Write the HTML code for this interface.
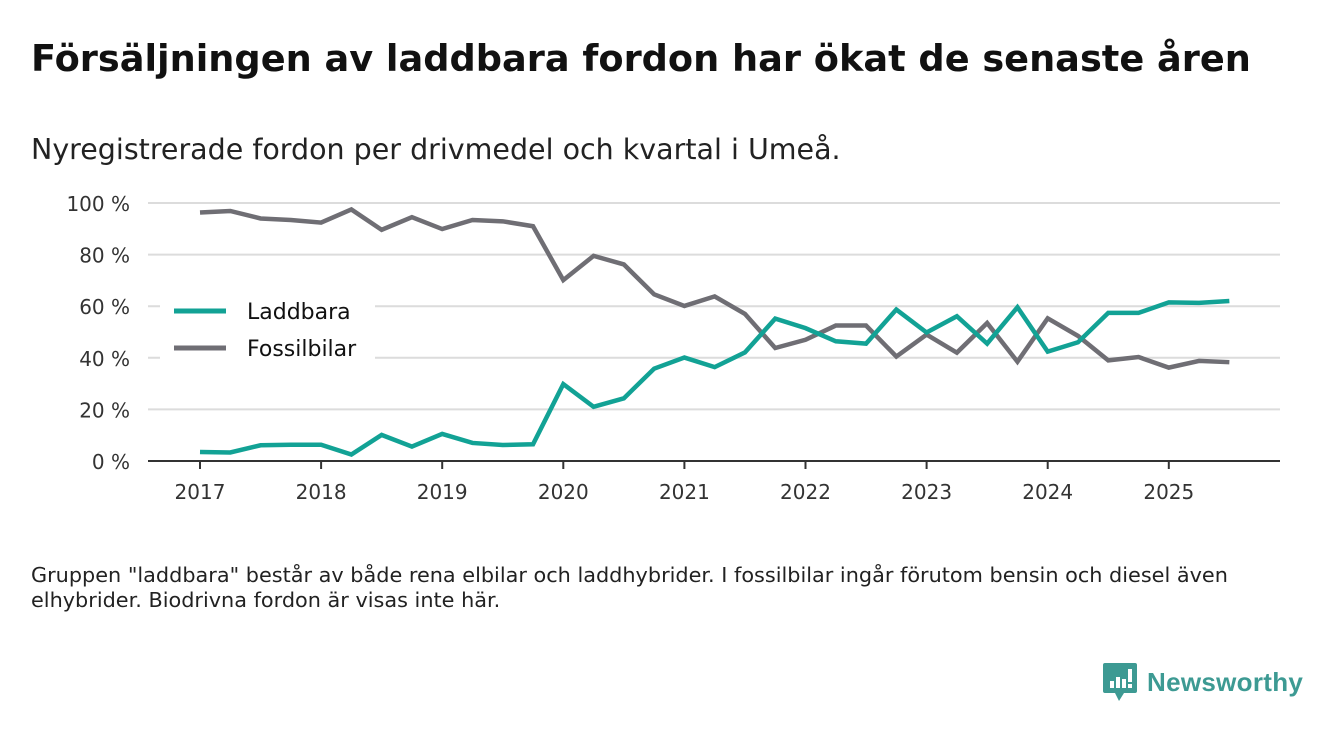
<!DOCTYPE html>
<html><head><meta charset="utf-8"><style>
body{margin:0;background:#fff;font-family:"DejaVu Sans","Liberation Sans",sans-serif;}
.wrap{position:relative;width:1340px;height:733px;overflow:hidden;}
h1{position:absolute;left:31px;top:37px;margin:0;font-size:36.7px;font-weight:bold;color:#111;}
.sub{position:absolute;left:31px;top:133px;font-size:28.5px;color:#222}
.note{position:absolute;left:31px;top:563px;font-size:20.8px;line-height:25px;color:#222;width:1270px}
.logo{position:absolute;left:1103px;top:663px;display:flex;align-items:center}
.logo span{font-size:26px;font-weight:bold;color:#3d9a93;margin-left:10px;font-family:"Liberation Sans",sans-serif;letter-spacing:0.3px}
</style></head><body><div class="wrap">
<h1>Försäljningen av laddbara fordon har ökat de senaste åren</h1>
<div class="sub">Nyregistrerade fordon per drivmedel och kvartal i Umeå.</div>
<svg id="chart" width="1340" height="733" style="position:absolute;left:0;top:0"></svg>
<div class="note">Gruppen "laddbara" består av både rena elbilar och laddhybrider. I fossilbilar ingår förutom bensin och diesel även elhybrider. Biodrivna fordon är visas inte här.</div>
<div class="logo">
<svg width="34" height="38" viewBox="0 0 34 38"><path d="M2 0h30a2 2 0 0 1 2 2v26a2 2 0 0 1-2 2H21l-5 8-4-8H2a2 2 0 0 1-2-2V2a2 2 0 0 1 2-2z" fill="#3d9a93"/><rect x="7" y="18" width="4" height="7" fill="#fff"/><rect x="13" y="14" width="4" height="11" fill="#fff"/><rect x="19" y="16" width="4" height="9" fill="#fff"/><rect x="25" y="6" width="4" height="13" fill="#fff"/><rect x="25" y="21" width="4" height="4" fill="#fff"/></svg>
<span>Newsworthy</span></div>
</div>
<script>
const years=[2017,2018,2019,2020,2021,2022,2023,2024,2025];
const yTicks=[0,20,40,60,80,100];
const laddbara=[3.5,3.3,6.1,6.3,6.3,2.5,10.1,5.6,10.5,7,6.2,6.5,29.8,21,24.3,35.8,40.1,36.4,42.1,55.2,51.5,46.4,45.5,58.7,49.8,56.1,45.5,59.6,42.4,46,57.4,57.4,61.5,61.3,62.0];
const fossil=[96.3,96.9,94,93.4,92.4,97.5,89.6,94.5,89.9,93.4,92.9,91,70.1,79.5,76.2,64.6,60.1,63.8,57,43.8,47,52.5,52.5,40.5,49,42,53.5,38.5,55.3,48.5,39,40.3,36.2,38.8,38.3];
const svg=document.getElementById('chart');const NS='http://www.w3.org/2000/svg';
const FF='DejaVu Sans, Liberation Sans, sans-serif';
function x(t){return 200+(t-2017)*121.1;}
function y(v){return 461-v*2.58;}
function mk(tag,a){const e=document.createElementNS(NS,tag);for(const k in a)e.setAttribute(k,a[k]);svg.appendChild(e);return e;}
yTicks.forEach(v=>{
 if(v>0){const g=mk('line',{x1:148,x2:1280,y1:y(v),y2:y(v),stroke:'#dcdcdc','stroke-width':2});
 
 }
 const t=mk('text',{x:130,y:y(v)+8,'text-anchor':'end','font-size':20,fill:'#333','font-family':FF});t.textContent=v+' %';
 
 
});
const ax=mk('line',{x1:148,x2:1280,y1:461,y2:461,stroke:'#333','stroke-width':2});


years.forEach(yr=>{
 const tk=mk('line',{x1:x(yr),x2:x(yr),y1:461,y2:469,stroke:'#333','stroke-width':2});
 
 
 const t=mk('text',{x:x(yr),y:499,'text-anchor':'middle','font-size':20,fill:'#333','font-family':FF});t.textContent=yr;
 
 
});
const lb=mk('rect',{x:160,y:290,width:215,height:80,fill:'#fff'});


function series(d,c,name){
 const p=mk('polyline',{points:d.map((v,i)=>x(2017+i*0.25)+','+y(v)).join(' '),fill:'none',stroke:c,'stroke-width':4.5,'stroke-linejoin':'miter'});
 
 
}
series(fossil,'#6f6e74','fossilbilar-line');
series(laddbara,'#12a295','laddbara-line');
[['Laddbara','#12a295',311],['Fossilbilar','#6f6e74',348]].forEach(l=>{
 const ln=mk('line',{x1:174,x2:226,y1:l[2],y2:l[2],stroke:l[1],'stroke-width':5});
 
 
 const t=mk('text',{x:247,y:l[2]+8,'font-size':22,fill:'#111','font-family':FF});t.textContent=l[0];
 
 
});
</script>
</body></html>
